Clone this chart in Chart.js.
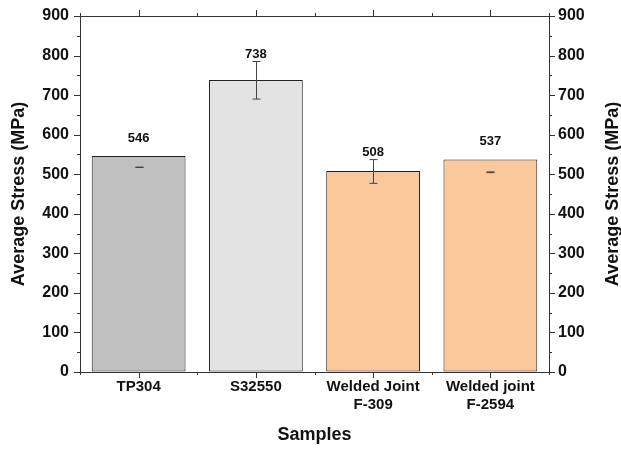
<!DOCTYPE html>
<html lang="en">
<head>
  <meta charset="UTF-8" />
  <title>Average Stress by Sample</title>
  <script src="https://cdn.jsdelivr.net/npm/chart.js"></script>
  <style>
    html, body { margin: 0; padding: 0; background: #fff; }
    #wrap { width: 621px; height: 450px; }
  </style>
</head>
<body>
  <div id="wrap"><canvas id="stressChart" width="621" height="450"></canvas></div>

  <script>
    const categories = ['TP304', 'S32550', ['Welded Joint', 'F-309'], ['Welded joint', 'F-2594']];
    const avgStress = [546, 738, 508, 537];
    const errLow = [517, 690, 477, 504];
    const errHigh = [518, 785, 537, 506];
    const barColors = ['#c0c0c0', '#e3e3e3', '#fac89a', '#fac89a'];
    const yMin = 0;
    const yMax = 900;
    const yStep = 100;
    const yTitle = 'Average Stress (MPa)';

    const fontFam = "'Liberation Sans', Arial, sans-serif";

    // frame, tick marks (major + minor), error bars, value labels, right title
    const decorPlugin = {
      id: 'decor',
      afterDatasetsDraw(chart) {
        const ctx = chart.ctx;
        const a = chart.chartArea;
        const y = chart.scales.y;
        const x = chart.scales.x;
        ctx.save();
        ctx.strokeStyle = '#333';
        ctx.lineWidth = 1;

        // frame
        ctx.strokeRect(a.left + 0.5, a.top + 0.5, a.right - a.left, a.bottom - a.top);

        // y ticks on both sides
        for (let v = yMin; v <= yMax; v += yStep / 2) {
          const py = Math.round(y.getPixelForValue(v)) + 0.5;
          const len = (v % yStep === 0) ? 6 : 3;
          ctx.beginPath();
          ctx.moveTo(a.left, py); ctx.lineTo(a.left - len, py);
          ctx.moveTo(a.right, py); ctx.lineTo(a.right + len, py);
          ctx.stroke();
        }

        // x ticks top and bottom
        const n = categories.length;
        for (let i = 0; i <= n * 2; i++) {
          const px = Math.round(a.left + (a.right - a.left) * i / (n * 2)) + 0.5;
          const major = i % 2 === 1;
          const len = major ? 6 : 3;
          ctx.beginPath();
          ctx.moveTo(px, a.bottom); ctx.lineTo(px, a.bottom + len);
          ctx.moveTo(px, a.top); ctx.lineTo(px, a.top - len);
          ctx.stroke();
        }

        // error bars
        ctx.strokeStyle = '#444';
        avgStress.forEach((val, i) => {
          const cx = Math.round(x.getPixelForValue(i)) + 0.5;
          const lo = y.getPixelForValue(errLow[i]);
          const hi = y.getPixelForValue(errHigh[i]);
          ctx.beginPath();
          ctx.moveTo(cx, lo); ctx.lineTo(cx, hi);
          ctx.moveTo(cx - 4, hi); ctx.lineTo(cx + 4, hi);
          ctx.moveTo(cx - 4, lo); ctx.lineTo(cx + 4, lo);
          ctx.stroke();
        });

        // value labels
        ctx.fillStyle = '#111';
        ctx.font = 'bold 13px ' + fontFam;
        ctx.textAlign = 'center';
        ctx.textBaseline = 'middle';
        avgStress.forEach((val, i) => {
          const cx = x.getPixelForValue(i);
          const ly = Math.min(y.getPixelForValue(val) - 18, y.getPixelForValue(errHigh[i]) - 7);
          ctx.fillText(String(val), cx, ly);
        });

        // right axis title, reading bottom to top like the left one
        ctx.save();
        ctx.translate(chart.width - 8, (a.top + a.bottom) / 2);
        ctx.rotate(-Math.PI / 2);
        ctx.font = 'bold 18px ' + fontFam;
        ctx.fillText(yTitle, 0, 0);
        ctx.restore();

        ctx.restore();
      }
    };

    new Chart(document.getElementById('stressChart'), {
      type: 'bar',
      data: {
        labels: categories,
        datasets: [{
          data: avgStress,
          backgroundColor: barColors,
          borderColor: '#222',
          borderWidth: 1,
          borderSkipped: false,
          categoryPercentage: 1,
          barPercentage: 0.8
        }]
      },
      options: {
        responsive: false,
        animation: false,
        layout: { padding: { top: 16, left: 0, right: 0, bottom: 0 } },
        plugins: {
          legend: { display: false },
          tooltip: { enabled: false }
        },
        scales: {
          x: {
            grid: { display: true, drawOnChartArea: false, color: 'transparent', tickLength: 6 },
            border: { display: false },
            ticks: { color: '#111', font: { family: fontFam, size: 15, weight: 'bold' }, padding: 0, maxRotation: 0 },
            title: { display: true, text: 'Samples', color: '#111', font: { family: fontFam, size: 18, weight: 'bold' }, padding: { top: 17 } },
            afterFit(s) { s.height = 78; }
          },
          y: {
            position: 'left',
            min: yMin, max: yMax,
            grid: { drawOnChartArea: false, color: 'transparent', tickLength: 6 },
            border: { display: false },
            ticks: { stepSize: yStep, color: '#111', font: { family: fontFam, size: 16, weight: 'bold' }, padding: 5 },
            title: { display: true, text: yTitle, color: '#111', font: { family: fontFam, size: 18, weight: 'bold' }, padding: { top: 8, bottom: 0 } },
            afterFit(s) { s.width = 80; }
          },
          y2: {
            position: 'right',
            min: yMin, max: yMax,
            grid: { drawOnChartArea: false, color: 'transparent', tickLength: 6 },
            border: { display: false },
            ticks: { stepSize: yStep, color: '#111', font: { family: fontFam, size: 16, weight: 'bold' }, padding: 3 },
            title: { display: false },
            afterFit(s) { s.width = 72; }
          }
        }
      },
      plugins: [decorPlugin]
    });
  </script>
</body>
</html>
